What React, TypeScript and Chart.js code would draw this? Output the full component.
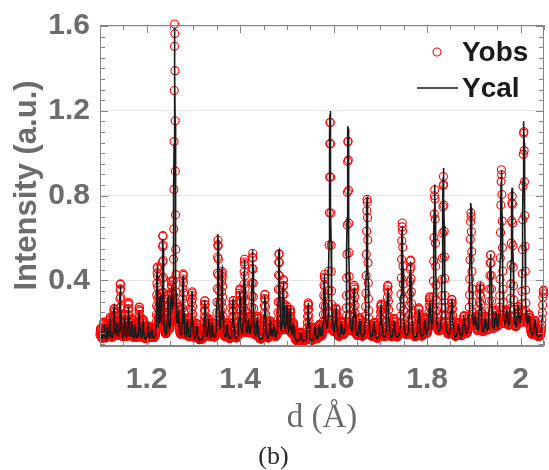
import React, { useEffect, useRef } from "react";
import { Chart, registerables } from "chart.js";

Chart.register(...registerables);

// ---- data (d in Å, intensities in a.u.) ----
const peakD = [
  1.1015, 1.1085, 1.1159, 1.1219, 1.1302, 1.1361, 1.1436, 1.1527, 1.161, 1.168,
  1.1755, 1.184, 1.1925, 1.2031, 1.2105, 1.2226, 1.2286, 1.2345, 1.2456, 1.253,
  1.2598, 1.2679, 1.2781, 1.287, 1.297, 1.3072, 1.3242, 1.3327, 1.3402, 1.3525,
  1.3614, 1.3721, 1.3848, 1.3993, 1.4092, 1.4177, 1.4267, 1.4369, 1.4528, 1.4645,
  1.4719, 1.4832, 1.4926, 1.5002, 1.507, 1.514, 1.5293, 1.5457, 1.5601, 1.5697,
  1.5803, 1.5925, 1.6052, 1.6165, 1.6307, 1.6441, 1.6558, 1.6717, 1.6866, 1.7015,
  1.7159, 1.7291, 1.7468, 1.7646, 1.7823, 1.795, 1.8056, 1.8163, 1.835, 1.853,
  1.8673, 1.879, 1.8938, 1.9034, 1.9136, 1.9247, 1.9359, 1.947, 1.9591, 1.9704,
  1.982, 1.9948, 2.0069, 2.0182, 2.0309, 2.049,
];
const calHeight = [
  0.17, 0.19, 0.18, 0.21, 0.26, 0.19, 0.37, 0.22, 0.27, 0.2,
  0.18, 0.25, 0.2, 0.18, 0.17, 0.46, 0.29, 0.58, 0.3, 0.33,
  1.58, 0.22, 0.41, 0.2, 0.34, 0.18, 0.3, 0.21, 0.18, 0.61,
  0.44, 0.18, 0.3, 0.34, 0.49, 0.2, 0.535, 0.21, 0.32, 0.2,
  0.18, 0.53, 0.38, 0.26, 0.24, 0.19, 0.15, 0.29, 0.17, 0.18,
  0.41, 1.19, 0.245, 0.18, 1.12, 0.35, 0.2, 0.79, 0.19, 0.27,
  0.36, 0.2, 0.65, 0.48, 0.25, 0.2, 0.28, 0.84, 0.92, 0.3,
  0.18, 0.21, 0.755, 0.2, 0.36, 0.2, 0.51, 0.22, 0.905, 0.22,
  0.82, 0.24, 1.14, 0.2, 0.2, 0.36,
];
const obsHeight = [
  0.17, 0.2, 0.19, 0.22, 0.26, 0.2, 0.38, 0.23, 0.29, 0.21,
  0.19, 0.27, 0.21, 0.18, 0.17, 0.45, 0.31, 0.6, 0.31, 0.35,
  1.6, 0.24, 0.42, 0.21, 0.34, 0.19, 0.3, 0.21, 0.19, 0.58,
  0.43, 0.19, 0.3, 0.35, 0.49, 0.21, 0.52, 0.22, 0.33, 0.2,
  0.18, 0.52, 0.39, 0.26, 0.25, 0.19, 0.15, 0.29, 0.17, 0.18,
  0.41, 1.15, 0.25, 0.19, 1.06, 0.36, 0.21, 0.78, 0.19, 0.28,
  0.37, 0.21, 0.665, 0.49, 0.26, 0.21, 0.3, 0.815, 0.88, 0.3,
  0.19, 0.22, 0.71, 0.2, 0.36, 0.21, 0.51, 0.23, 0.91, 0.22,
  0.78, 0.24, 1.1, 0.21, 0.2, 0.35,
];
const bgD = [1.1, 1.2, 1.3, 1.4, 1.5, 1.55, 1.6, 1.7, 1.8, 1.9, 2.0, 2.05];
const bgLevel = [0.115, 0.115, 0.112, 0.112, 0.109, 0.105, 0.109, 0.112, 0.115, 0.117, 0.119, 0.119];

const xMajorTicks = [1.2, 1.4, 1.6, 1.8, 2];
const yMajorTicks = [0.4, 0.8, 1.2, 1.6];
const X_MIN = 1.1;
const X_MAX = 2.05;
const Y_MIN = 0.09;
const Y_MAX = 1.605;
const MINOR_STEP = 0.05;

// instrument resolution (constant Δd/d binning)
const STEP_RATIO = 0.0003;
const FWHM_RATIO = 0.0024;
const ETA = 0.55;

function bgAt(d: number): number {
  if (d <= bgD[0]) return bgLevel[0];
  for (let i = 1; i < bgD.length; i++) {
    if (d <= bgD[i]) {
      const t = (d - bgD[i - 1]) / (bgD[i] - bgD[i - 1]);
      return bgLevel[i - 1] + t * (bgLevel[i] - bgLevel[i - 1]);
    }
  }
  return bgLevel[bgLevel.length - 1];
}

function profile(d: number, heights: number[]): number {
  let y = bgAt(d);
  for (let i = 0; i < peakD.length; i++) {
    const c = peakD[i];
    const f = FWHM_RATIO * c;
    const t = (d - c) / f;
    if (Math.abs(t) > 60) continue;
    const amp = heights[i] - bgAt(c);
    const g = Math.exp(-4 * Math.LN2 * t * t);
    const l = 1 / (1 + 4 * t * t);
    y += amp * (ETA * l + (1 - ETA) * g);
  }
  return y;
}

const obsGrid: number[] = [];
for (let d = X_MIN; d <= X_MAX; d *= 1 + STEP_RATIO) obsGrid.push(d);
const calGrid = [...obsGrid, ...peakD.filter((p) => p >= X_MIN && p <= X_MAX)].sort((a, b) => a - b);

const obsPoints = obsGrid.map((d) => ({ x: d, y: profile(d, obsHeight) }));
const calPoints = calGrid.map((d) => ({ x: d, y: profile(d, calHeight) }));

const AXIS_GRAY = "#858585";
const LABEL_GRAY = "#6c6c6c";

const framePlugin = {
  id: "frame",
  afterDatasetsDraw(chart: any) {
    const { ctx, chartArea, scales } = chart;
    const { left, right, top, bottom } = chartArea;
    const x = scales.x;
    const y = scales.y;
    ctx.save();
    ctx.strokeStyle = AXIS_GRAY;
    ctx.lineWidth = 1;
    ctx.beginPath();
    ctx.rect(Math.round(left) + 0.5, Math.round(top) + 0.5, Math.round(right - left) - 1, Math.round(bottom - top) - 1);
    ctx.stroke();
    ctx.beginPath();
    const nX = Math.round((X_MAX - X_MIN) / MINOR_STEP);
    for (let k = 0; k <= nX; k++) {
      const v = X_MIN + k * MINOR_STEP;
      if (v > X_MAX + 1e-9) break;
      const major = xMajorTicks.some((m) => Math.abs(m - v) < 1e-6);
      const len = major ? 8 : 5;
      const px = Math.round(x.getPixelForValue(v)) + 0.5;
      ctx.moveTo(px, bottom);
      ctx.lineTo(px, bottom - len);
      ctx.moveTo(px, top);
      ctx.lineTo(px, top + len);
    }
    for (let k = 0; k <= 40; k++) {
      const v = 0.1 + k * MINOR_STEP;
      if (v > Y_MAX + 1e-9) break;
      const major = yMajorTicks.some((m) => Math.abs(m - v) < 1e-6);
      const len = major ? 8 : 5;
      const py = Math.round(y.getPixelForValue(v)) + 0.5;
      ctx.moveTo(left, py);
      ctx.lineTo(left + len, py);
      ctx.moveTo(right, py);
      ctx.lineTo(right - len, py);
    }
    ctx.stroke();

    // legend
    ctx.strokeStyle = "#ff0000";
    ctx.lineWidth = 1.1;
    ctx.beginPath();
    ctx.arc(437, 52, 4, 0, Math.PI * 2);
    ctx.stroke();
    ctx.strokeStyle = "#1a1a1a";
    ctx.lineWidth = 1.5;
    ctx.beginPath();
    ctx.moveTo(417, 88);
    ctx.lineTo(458, 88);
    ctx.stroke();
    ctx.fillStyle = "#1a1a1a";
    ctx.font = "bold 28px 'Liberation Sans', Arial, sans-serif";
    ctx.textAlign = "left";
    ctx.textBaseline = "middle";
    ctx.fillText("Yobs", 462, 53);
    ctx.fillText("Ycal", 462, 89);
    ctx.restore();
  },
};

export default function App() {
  const canvasRef = useRef<HTMLCanvasElement | null>(null);

  useEffect(() => {
    if (!canvasRef.current) return;
    const chart = new Chart(canvasRef.current, {
      type: "scatter",
      data: {
        datasets: [
          {
            label: "Ycal",
            data: calPoints,
            showLine: true,
            borderColor: "#1a1a1a",
            borderWidth: 1.6,
            pointRadius: 0,
            fill: false,
            tension: 0,
            order: 0,
          },
          {
            label: "Yobs",
            data: obsPoints,
            showLine: false,
            pointStyle: "circle",
            pointRadius: 4,
            pointBorderWidth: 1.1,
            pointBorderColor: "#ff0000",
            pointBackgroundColor: "rgba(0,0,0,0)",
            borderColor: "#ff0000",
            backgroundColor: "rgba(0,0,0,0)",
            clip: false as any,
            order: 1,
          },
        ],
      },
      options: {
        responsive: false,
        animation: false,
        events: [],
        layout: { padding: { left: 0, top: 20, right: 2, bottom: 0 } },
        plugins: {
          legend: { display: false },
          tooltip: { enabled: false },
          subtitle: {
            display: true,
            position: "bottom",
            text: "(b)",
            color: "#2a2a2a",
            font: { family: "'Liberation Serif', serif", size: 26, weight: "normal", lineHeight: 1 },
            padding: { top: 0, bottom: 0 },
          },
        },
        scales: {
          x: {
            type: "linear",
            min: X_MIN,
            max: X_MAX,
            afterBuildTicks: (s: any) => {
              s.ticks = xMajorTicks.map((v) => ({ value: v }));
            },
            afterFit: (s: any) => {
              s.height = 98;
            },
            ticks: {
              autoSkip: false,
              maxRotation: 0,
              padding: 19,
              color: LABEL_GRAY,
              font: { family: "'Liberation Sans', Arial, sans-serif", size: 30, weight: "bold", lineHeight: 1 },
              callback: (v: any) => (Math.abs(v - 2) < 1e-9 ? "2" : Number(v).toFixed(1)),
            },
            grid: { display: false, drawTicks: false },
            border: { display: true, color: AXIS_GRAY },
            title: {
              display: true,
              text: "d (Å)",
              color: LABEL_GRAY,
              font: { family: "'Liberation Serif', serif", size: 33, weight: "normal", lineHeight: 1 },
              padding: { top: 0, bottom: 9 },
            },
          },
          y: {
            type: "linear",
            min: Y_MIN,
            max: Y_MAX,
            afterBuildTicks: (s: any) => {
              s.ticks = yMajorTicks.map((v) => ({ value: v }));
            },
            afterFit: (s: any) => {
              s.width = 100;
            },
            ticks: {
              padding: 10,
              color: LABEL_GRAY,
              font: { family: "'Liberation Sans', Arial, sans-serif", size: 30, weight: "bold", lineHeight: 1 },
              callback: (v: any) => Number(v).toFixed(1),
            },
            grid: { color: "#e4e4e4", lineWidth: 1, drawTicks: false },
            border: { display: true, color: AXIS_GRAY },
            title: {
              display: true,
              text: "Intensity (a.u.)",
              color: LABEL_GRAY,
              font: { family: "'Liberation Sans', Arial, sans-serif", size: 31, weight: "bold", lineHeight: 1 },
              padding: { top: 12, bottom: 0 },
            },
          },
        },
      },
      plugins: [framePlugin],
    } as any);
    return () => chart.destroy();
  }, []);

  return (
    <div style={{ position: "fixed", left: 0, top: 0, width: 549, height: 470, background: "#fff" }}>
      <canvas ref={canvasRef} width={549} height={470} style={{ display: "block" }} />
    </div>
  );
}
